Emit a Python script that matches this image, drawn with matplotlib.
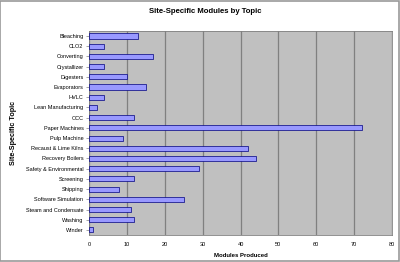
import matplotlib
matplotlib.use('Agg')
import matplotlib.pyplot as plt

topics = ['Bleaching', 'CLO2', 'Converting', 'Crystallizer', 'Digesters', 'Evaporators',
          'HVLC', 'Lean Manufacturing', 'OCC', 'Paper Machines', 'Pulp Machine',
          'Recaust & Lime Kilns', 'Recovery Boilers', 'Safety & Environmental',
          'Screening', 'Shipping', 'Software Simulation', 'Steam and Condensate',
          'Washing', 'Winder']
modules = [13, 4, 17, 4, 10, 15, 4, 2, 12, 72, 9, 42, 44, 29, 12, 8, 25, 11, 12, 1]
xticks = [0, 10, 20, 30, 40, 50, 60, 70, 80]

plt.rcParams['font.family'] = ['Liberation Sans', 'DejaVu Sans']

fig = plt.figure(figsize=(4.0, 2.62), dpi=100)
fig.patches.append(plt.Rectangle((0.001, 0.002), 0.997, 0.995, transform=fig.transFigure,
                                 fill=False, edgecolor='#999999', linewidth=1.2))
ax = fig.add_axes([0.2225, 0.103, 0.7575, 0.779])
ax.set_facecolor('#C0C0C0')

ypos = list(range(len(topics)))
ax.barh(ypos, modules, height=0.5, color='#9999FF', edgecolor='#000080', linewidth=0.5, zorder=3)
ax.set_ylim(len(topics) - 0.5, -0.5)
ax.set_xlim(0, 80)
ax.set_xticks(xticks)
ax.set_yticks(ypos)
ax.set_yticklabels(topics)
ax.xaxis.grid(True, color='#808080', linewidth=0.9, zorder=1)
ax.tick_params(axis='x', length=0, labelsize=4.1, pad=5)
ax.tick_params(axis='y', length=2, width=0.5, labelsize=4.0, pad=2, color='#808080')
for s in ['top', 'right', 'bottom', 'left']:
    ax.spines[s].set_color('#808080')
    ax.spines[s].set_linewidth(0.6)

fig.text(0.5125, 0.955, 'Site-Specific Modules by Topic', fontsize=5.6, fontweight='bold',
         ha='center', va='center')
ax.set_xlabel('Modules Produced', fontsize=4.3, fontweight='bold', labelpad=4)
ax.set_ylabel('Site-Specific Topic', fontsize=5.2, fontweight='bold', labelpad=6)

fig.savefig('out.png', dpi=100)
